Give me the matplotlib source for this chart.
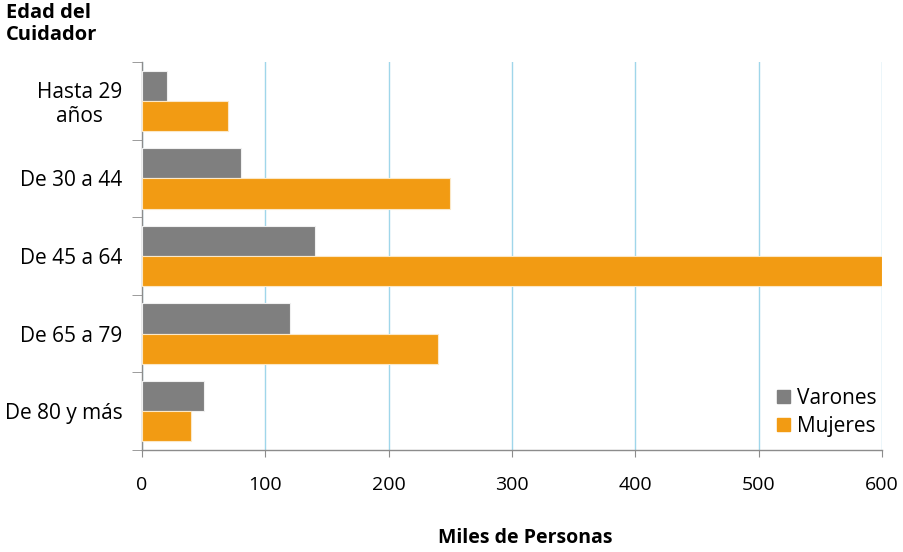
import numpy as np
import matplotlib
matplotlib.use('Agg')
import matplotlib.pyplot as plt
from matplotlib.patches import Patch

plt.rcParams['font.family'] = ['Open Sans', 'DejaVu Sans']

edades = ['Hasta 29\naños', 'De 30 a 44', 'De 45 a 64', 'De 65 a 79', 'De 80 y más']
varones = [20, 80, 140, 120, 50]
mujeres = [70, 250, 600, 240, 40]
x_ticks = [0, 100, 200, 300, 400, 500, 600]

gris = '#7f7f7f'
naranja = '#f29b13'

fig = plt.figure(figsize=(9.04, 5.52), dpi=100)
ax = fig.add_axes([142 / 904, 1 - 450 / 552, 740 / 904, 388 / 552])

y = np.arange(len(edades))
h = 0.39
ax.barh(y - h / 2, varones, height=h, color=gris, edgecolor='#f0f0f0', linewidth=0.8, zorder=3)
ax.barh(y + h / 2, mujeres, height=h, color=naranja, edgecolor='#fbe8c8', linewidth=0.8, zorder=3)

ax.set_xlim(0, 600)
ax.set_ylim(len(edades) - 0.5, -0.5)
ax.set_xticks(x_ticks)
ax.set_xticklabels([str(v) for v in x_ticks], fontsize=14)
ax.xaxis.grid(True, color='#9fd6ea', linewidth=1.0, zorder=0)
ax.tick_params(axis='x', length=5, color='#8c8c8c', pad=14)

# category labels at centers, tick marks at the boundaries
ax.set_yticks(y)
ax.set_yticklabels(edades, fontsize=15, multialignment='center')
ax.tick_params(axis='y', which='major', length=0, pad=14)
ax.set_yticks(np.arange(-0.5, len(edades)), minor=True)
ax.tick_params(axis='y', which='minor', length=7, color='#8c8c8c')

for side in ['top', 'right']:
    ax.spines[side].set_visible(False)
for side in ['left', 'bottom']:
    ax.spines[side].set_color('#8c8c8c')
    ax.spines[side].set_linewidth(1.0)

handles = [Patch(color=gris, label='Varones'), Patch(color=naranja, label='Mujeres')]
ax.legend(handles=handles, loc='lower right', frameon=False, fontsize=15,
          handlelength=0.6, handleheight=0.6, handletextpad=0.35,
          labelspacing=0.35, bbox_to_anchor=(1.018, -0.015))

fig.text(6 / 904, 1 - 3 / 552, 'Edad del\nCuidador', fontsize=14.5, fontweight='bold',
         ha='left', va='top', linespacing=1.1)
fig.text(525 / 904, 1 - 538 / 552, 'Miles de Personas', fontsize=14, fontweight='bold',
         ha='center', va='center')

fig.savefig('out.png', dpi=100)
